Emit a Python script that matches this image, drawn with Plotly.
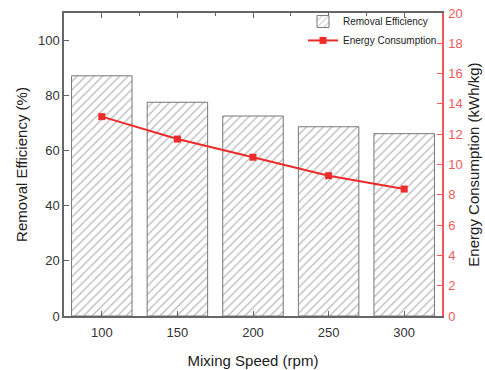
import plotly.graph_objects as go

speeds = [100, 150, 200, 250, 300]
removal_eff = [87.2, 77.6, 72.6, 68.7, 66.2]
energy = [13.16, 11.68, 10.48, 9.26, 8.38]

FONT = "Liberation Sans, Arial, sans-serif"
GRAY = "#666666"
RED_AX = "#f05a5a"
RED = "#ee2b2b"

fig = go.Figure()
fig.add_trace(go.Bar(
    x=speeds, y=removal_eff, width=40, name="Removal Efficiency",
    marker=dict(color="white", line=dict(color="#777777", width=1),
                pattern=dict(shape="/", fgcolor="#707070", bgcolor="white", size=6, solidity=0.2)),
))
fig.add_trace(go.Scatter(
    x=speeds, y=energy, yaxis="y2", mode="lines+markers", name="Energy Consumption",
    line=dict(color=RED, width=2), marker=dict(symbol="square", size=7, color=RED),
))
fig.add_trace(go.Scatter(x=[speeds[0]], y=[0], xaxis="x2", mode="markers",
                         marker=dict(opacity=0), showlegend=False, hoverinfo="skip"))

fig.update_layout(
    width=485, height=370,
    margin=dict(l=64, r=43, t=13, b=54, autoexpand=False),
    paper_bgcolor="white", plot_bgcolor="white",
    font=dict(family=FONT, size=13, color="#333333"),
    showlegend=True,
    legend=dict(x=1, xanchor="right", y=1.02, yanchor="top", bgcolor="rgba(0,0,0,0)",
                font=dict(size=10, color="#222222"), itemwidth=30, tracegroupgap=0,
                borderwidth=0),
    xaxis=dict(range=[75, 325], tickvals=speeds, ticktext=[str(s) for s in speeds],
               ticks="inside", ticklen=5, tickcolor=GRAY, showline=True, linecolor=GRAY,
               linewidth=1.5, mirror=True, showgrid=False, zeroline=False, automargin=False,
               ticklabelstandoff=4,
               title=dict(text="Mixing Speed (rpm)", font=dict(size=15, color="#222222"), standoff=16),
               tickfont=dict(size=13, color="#333333")),
    xaxis2=dict(range=[75, 325], overlaying="x", side="top", anchor="y", automargin=False,
                tickvals=speeds, ticks="inside", ticklen=5, tickcolor=GRAY,
                showticklabels=False, showgrid=False, zeroline=False, showline=False,
                minor=dict(tickvals=[125, 175, 225, 275], ticks="inside", ticklen=3, tickcolor=GRAY)),
    yaxis=dict(range=[0, 110], tickvals=[0, 20, 40, 60, 80, 100], ticks="inside", ticklen=5,
               tickcolor=GRAY, showline=True, linecolor=GRAY, linewidth=1.5, showgrid=False,
               zeroline=False, automargin=False,
               title=dict(text="Removal Efficiency (%)", font=dict(size=15, color="#222222"), standoff=7),
               tickfont=dict(size=13, color="#333333")),
    yaxis2=dict(range=[0, 20], dtick=2, overlaying="y", side="right", anchor="x",
                ticks="inside", ticklen=5, tickcolor=RED_AX, showline=True, linecolor=RED_AX,
                linewidth=1.5, showgrid=False, zeroline=False, automargin=False,
                ticklabelstandoff=2,
                title=dict(text="Energy Consumption (kWh/kg)", font=dict(size=15, color="#222222"), standoff=7),
                tickfont=dict(size=13, color=RED_AX)),
    bargap=0.2,
)

# remove the browser's default 8px body margin so the figure sits at the page origin
fig.write_html("out.html", config={"displayModeBar": False},
               post_script="document.body.style.margin='0px';")
